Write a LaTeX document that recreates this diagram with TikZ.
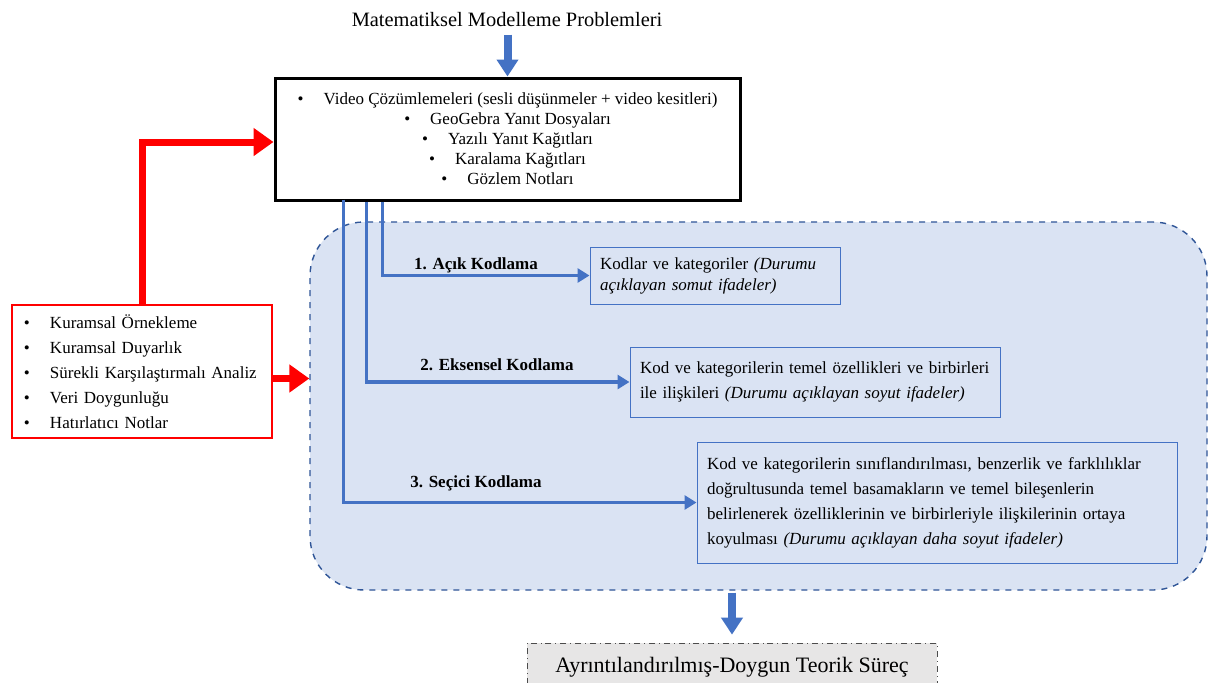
\documentclass[tikz,border=0pt]{standalone}
\usepackage{fontspec}
\setmainfont{Liberation Serif}
\usetikzlibrary{arrows.meta,calc}
\definecolor{bblue}{HTML}{4472C4}
\definecolor{dblue}{HTML}{2F5597}
\definecolor{lblue}{HTML}{DAE3F3}
\definecolor{lgray}{HTML}{E7E6E6}
\definecolor{pred}{HTML}{FF0000}
\tikzset{
  databox/.style={draw=black, line width=1.5pt, fill=white, minimum width=232.5pt, minimum height=61pt, inner sep=0pt, align=center, font=\fontsize{8.5}{10}\selectfont},
  redbox/.style={draw=pred, line width=1.2pt, fill=white, minimum width=130pt, minimum height=66.5pt, inner xsep=6pt, inner ysep=0pt, text width=118pt, align=left, font=\fontsize{8.5}{12.5}\selectfont},
  container/.style={draw=dblue, dashed, line width=0.7pt, fill=lblue, rounded corners=27pt, minimum width=448.5pt, minimum height=184pt},
  codebox/.style={draw=bblue, line width=0.5pt, inner xsep=5pt, inner ysep=0pt, align=left, font=\fontsize{8.5}{12.5}\selectfont},
  lbl/.style={font=\fontsize{8.5}{10}\selectfont\bfseries, inner sep=0pt},
  conn/.style={draw=bblue, line width=1.8pt, -{Triangle[length=6pt,width=7pt]}},
  bigblue/.style={draw=bblue, line width=4pt, -{Triangle[length=8.5pt,width=10.5pt]}},
  redarrow/.style={draw=pred, line width=3.5pt, -{Triangle[length=10pt,width=13.5pt]}},
  finalbox/.style={draw=black!70, dash dot, line width=0.4pt, fill=lgray, minimum width=205pt, minimum height=24pt, inner sep=0pt, font=\fontsize{11}{12}\selectfont},
  title/.style={font=\fontsize{10.2}{12}\selectfont, inner sep=0pt}
}
\begin{document}
\begin{tikzpicture}[x=0.5pt,y=-0.5pt]
\useasboundingbox[fill=white] (0,0) rectangle (1211,682);

% container
\node[container] (stage) at (758.5,406) {};

% title and data box
\node[title] (title) at (507,20) {Matematiksel Modelleme Problemleri};
\node[databox] (data) at (507.5,139) {%
\textbullet\hspace{10pt}Video Çözümlemeleri (sesli düşünmeler + video kesitleri)\\
\textbullet\hspace{10pt}GeoGebra Yanıt Dosyaları\\
\textbullet\hspace{10pt}Yazılı Yanıt Kağıtları\\
\textbullet\hspace{10pt}Karalama Kağıtları\\
\textbullet\hspace{10pt}Gözlem Notları};
\draw[bigblue] ([yshift=-3.5pt]title.south -| data.north) -- (data.north);

% red box
\node[redbox] (red) at (142,371.5) {%
\makebox[13pt][l]{\textbullet}Kuramsal Örnekleme\\
\makebox[13pt][l]{\textbullet}Kuramsal Duyarlık\\
\makebox[13pt][l]{\textbullet}Sürekli Karşılaştırmalı Analiz\\
\makebox[13pt][l]{\textbullet}Veri Doygunluğu\\
\makebox[13pt][l]{\textbullet}Hatırlatıcı Notlar};
\draw[redarrow] (red.north) |- ([yshift=-1.5pt]data.west);
\draw[redarrow] ([yshift=-3.5pt]red.east) -- ([yshift=-3.5pt]red.east -| stage.west);

% code boxes
\node[codebox, minimum width=125pt, minimum height=28.5pt, text width=115pt, font=\fontsize{8.5}{10.5}\selectfont] (b1) at (715,275.5) {%
Kodlar ve kategoriler \textit{(Durumu}\\ \textit{açıklayan somut ifadeler)}};
\node[codebox, minimum width=185pt, minimum height=35pt, text width=175pt] (b2) at (815,382) {%
Kod ve kategorilerin temel özellikleri ve birbirleri\\ ile ilişkileri \textit{(Durumu açıklayan soyut ifadeler)}};
\node[codebox, minimum width=240pt, minimum height=60.5pt, text width=230pt] (b3) at (937,502.5) {%
Kod ve kategorilerin sınıflandırılması, benzerlik ve farklılıklar\\
doğrultusunda temel basamakların ve temel bileşenlerin\\
belirlenerek özelliklerinin ve birbirleriyle ilişkilerinin ortaya\\
koyulması \textit{(Durumu açıklayan daha soyut ifadeler)}};

\coordinate (c1) at ([xshift=54.5pt]data.south west);
\coordinate (c2) at ([xshift=46.5pt]data.south west);
\coordinate (c3) at ([xshift=35pt,yshift=1pt]data.south west);
\draw[conn] (c1) |- (b1.west);
\draw[conn] (c2) |- (b2.west);
\draw[conn] (c3) |- (b3.west);

\node[lbl] (l1) at (476,265) {1. Açık Kodlama};
\node[lbl] (l2) at (497,365) {2. Eksensel Kodlama};
\node[lbl] (l3) at (476,483) {3. Seçici Kodlama};

% final
\node[finalbox] (final) at (732,667) {Ayrıntılandırılmış-Doygun Teorik Süreç};
\draw[bigblue] ([yshift=-1pt]stage.south -| final.north) -- ([yshift=4pt]final.north);
\end{tikzpicture}
\end{document}
